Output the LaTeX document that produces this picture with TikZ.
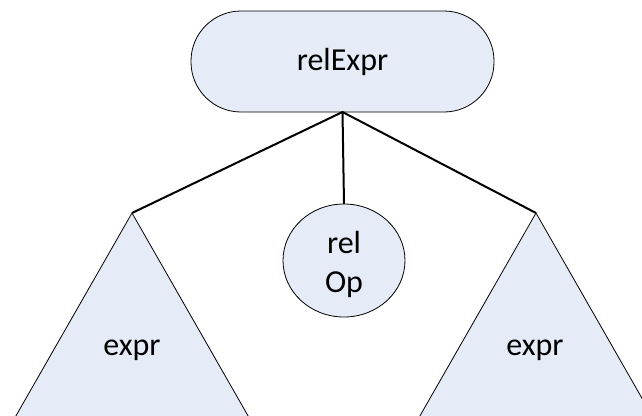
\documentclass[tikz,border=0pt]{standalone}
\usepackage{fontspec}
\setmainfont{Carlito}
\usetikzlibrary{shapes.geometric}
\definecolor{nodefill}{RGB}{230,236,247}
\tikzset{
  treenode/.style={draw=black, line width=0.8pt, fill=nodefill, inner sep=0pt, outer sep=0pt},
  edge/.style={draw=black, line width=2pt},
  lbl/.style={font=\fontsize{32}{39}\selectfont, align=center, inner sep=0pt}
}
\begin{document}
\begin{tikzpicture}[x=1pt, y=-1pt]
  \useasboundingbox (0,0) rectangle (642,415);
  \begin{scope}
    \clip (0,0) rectangle (642,415);
    % subtree triangles, running past the lower edge
    \coordinate (lapex) at (132,213);
    \coordinate (rapex) at (536,213);
    \path[treenode] (lapex) -- ++(-127,222) -- ++(254,0) -- cycle;
    \path[treenode] (rapex) -- ++(-127,222) -- ++(254,0) -- cycle;
  \end{scope}
  \node[lbl] (lexpr) at (132,350) {expr};
  \node[lbl] (rexpr) at (535,350) {expr};
  % root and operator
  \node[treenode, rounded corners=50pt, minimum width=303pt, minimum height=101pt, lbl] (root) at (342.5,61.5) {relExpr};
  \node[treenode, ellipse, minimum width=122pt, minimum height=113pt] (op) at (344,260.5) {};
  \node[lbl] (optext) at (344,264) {rel\\Op};
  % connectors
  \coordinate (hub) at (root.south);
  \draw[edge] (lapex) -- (hub) -- (rapex);
  \draw[edge] (hub) -- (op.north);
\end{tikzpicture}
\end{document}
